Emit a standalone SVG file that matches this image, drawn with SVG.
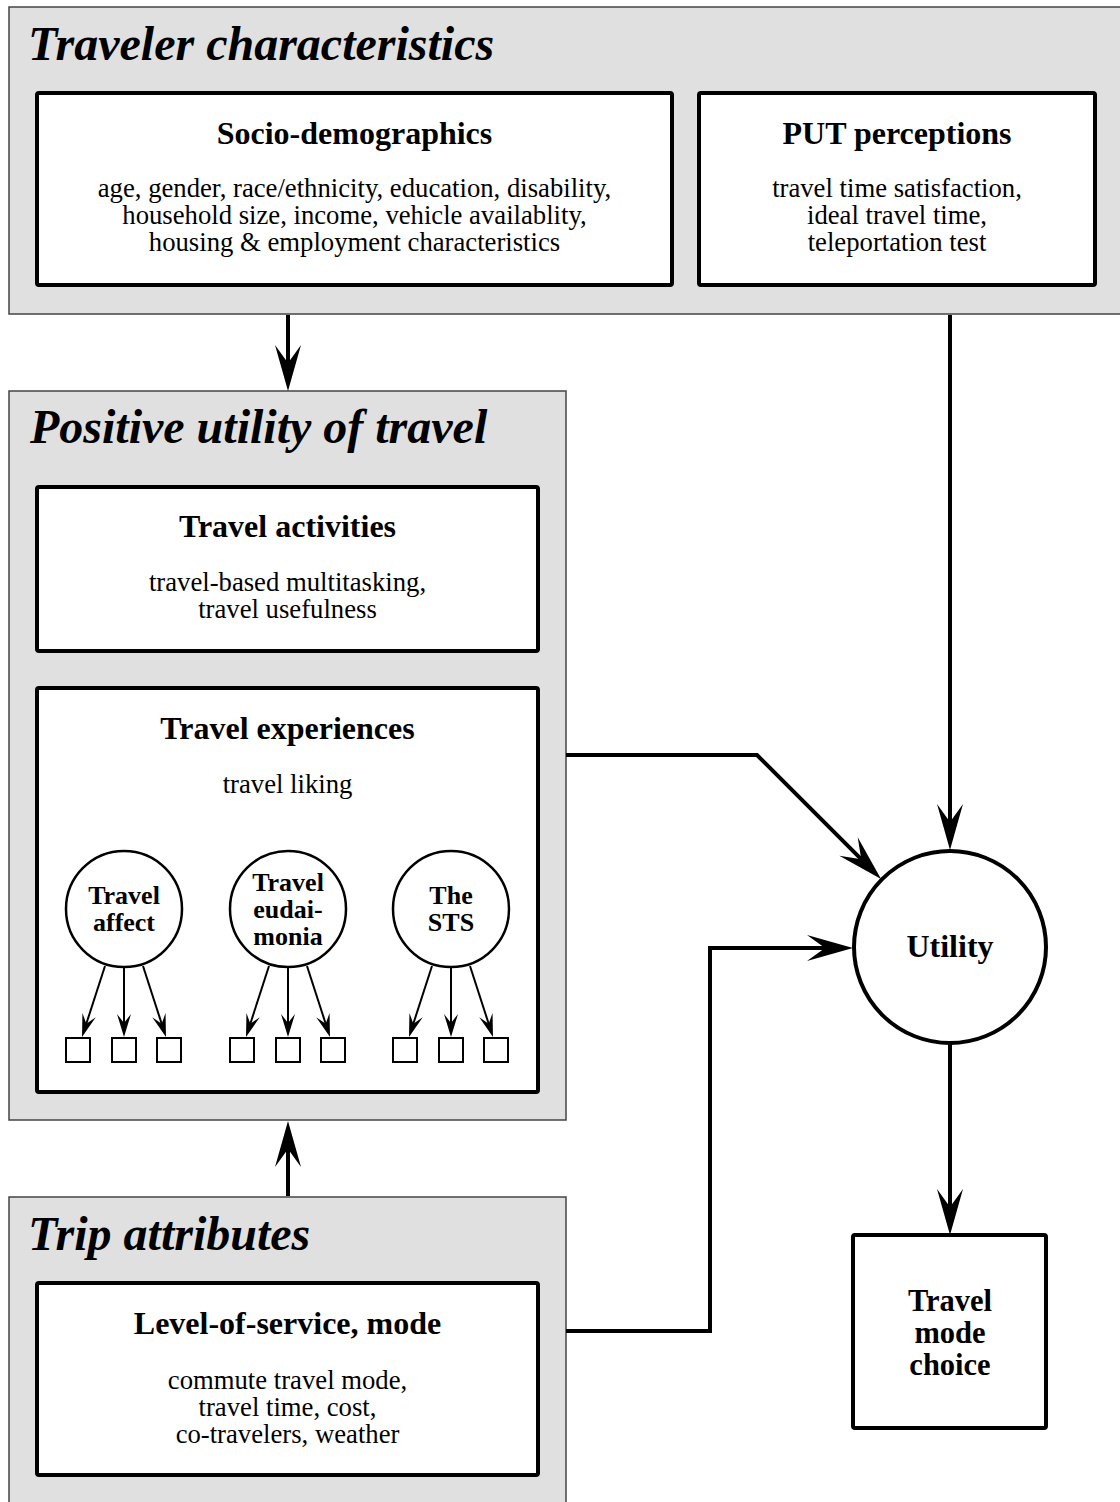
<svg xmlns="http://www.w3.org/2000/svg" width="1120" height="1502" viewBox="0 0 1120 1502">
<style>
.frame{fill:#e0e0e0;stroke:#444;stroke-width:1.5}
.box{fill:#fff;stroke:#000;stroke-width:4}
.ftitle{font-family:"Liberation Serif",serif;font-weight:bold;font-style:italic;font-size:48px;fill:#000}
.title{font-family:"Liberation Serif",serif;font-weight:bold;font-size:32px;fill:#000;text-anchor:middle}
.mtitle{font-family:"Liberation Serif",serif;font-weight:bold;font-size:30.5px;fill:#000;text-anchor:middle}
.body{font-family:"Liberation Serif",serif;font-size:26.7px;fill:#000;text-anchor:middle}
.ctext{font-family:"Liberation Serif",serif;font-weight:bold;font-size:26px;fill:#000;text-anchor:middle}
.conn{fill:none;stroke:#000;stroke-width:4;stroke-linejoin:miter}
.sconn{fill:none;stroke:#000;stroke-width:2}
.sq{fill:#fff;stroke:#000;stroke-width:2}
.lat{fill:#fff;stroke:#000;stroke-width:2.5}
</style>
<defs>
<marker id="ah" markerUnits="userSpaceOnUse" orient="auto" refX="0" refY="0" markerWidth="80" markerHeight="40" overflow="visible">
<path d="M20,0 L-26,-13 L-8,0 L-26,13 Z" fill="#000"/>
</marker>
<marker id="sah" markerUnits="userSpaceOnUse" orient="auto" refX="0" refY="0" markerWidth="40" markerHeight="20" overflow="visible">
<path d="M10,0 L-13,-7 L-4,0 L-13,7 Z" fill="#000"/>
</marker>
</defs>

<g id="traveler-characteristics">
<rect class="frame" x="9" y="7" width="1120" height="307"/>
<text class="ftitle" x="28" y="60">Traveler characteristics</text>
</g>
<g id="socio-demographics">
<rect class="box" x="37" y="93" width="635" height="192" rx="2"/>
<text class="title" x="354.5" y="144">Socio-demographics</text>
<text class="body" x="354.5" y="197">age, gender, race/ethnicity, education, disability,</text>
<text class="body" x="354.5" y="224">household size, income, vehicle availablity,</text>
<text class="body" x="354.5" y="251">housing &amp; employment characteristics</text>
</g>
<g id="put-perceptions">
<rect class="box" x="699" y="93" width="396" height="192" rx="2"/>
<text class="title" x="897" y="144">PUT perceptions</text>
<text class="body" x="897" y="197">travel time satisfaction,</text>
<text class="body" x="897" y="224">ideal travel time,</text>
<text class="body" x="897" y="251">teleportation test</text>
</g>

<g id="positive-utility">
<rect class="frame" x="9" y="391" width="557" height="729"/>
<text class="ftitle" x="30" y="443">Positive utility of travel</text>
</g>
<g id="travel-activities">
<rect class="box" x="37" y="487" width="501" height="164" rx="2"/>
<text class="title" x="287.5" y="537">Travel activities</text>
<text class="body" x="287.5" y="591">travel-based multitasking,</text>
<text class="body" x="287.5" y="618">travel usefulness</text>
</g>
<g id="travel-experiences">
<rect class="box" x="37" y="688" width="501" height="404" rx="2"/>
<text class="title" x="287.5" y="739">Travel experiences</text>
<text class="body" x="287.5" y="793">travel liking</text>
</g>

<g id="travel-affect">
<circle class="lat" cx="124" cy="909" r="58"/>
<text class="ctext" x="124" y="904">Travel</text>
<text class="ctext" x="124" y="931">affect</text>
<rect class="sq" x="66" y="1038" width="24" height="24"/>
<rect class="sq" x="112" y="1038" width="24" height="24"/>
<rect class="sq" x="157" y="1038" width="24" height="24"/>
</g>
<g id="travel-eudaimonia">
<circle class="lat" cx="288" cy="909" r="58"/>
<text class="ctext" x="288" y="891">Travel</text>
<text class="ctext" x="288" y="918">eudai-</text>
<text class="ctext" x="288" y="945">monia</text>
<rect class="sq" x="230" y="1038" width="24" height="24"/>
<rect class="sq" x="276" y="1038" width="24" height="24"/>
<rect class="sq" x="321" y="1038" width="24" height="24"/>
</g>
<g id="the-sts">
<circle class="lat" cx="451" cy="909" r="58"/>
<text class="ctext" x="451" y="904">The</text>
<text class="ctext" x="451" y="931">STS</text>
<rect class="sq" x="393" y="1038" width="24" height="24"/>
<rect class="sq" x="439" y="1038" width="24" height="24"/>
<rect class="sq" x="484" y="1038" width="24" height="24"/>
</g>

<g id="trip-attributes">
<rect class="frame" x="9" y="1197" width="557" height="400"/>
<text class="ftitle" x="28" y="1250">Trip attributes</text>
</g>
<g id="level-of-service">
<rect class="box" x="37" y="1283" width="501" height="192" rx="2"/>
<text class="title" x="287.5" y="1334">Level-of-service, mode</text>
<text class="body" x="287.5" y="1389">commute travel mode,</text>
<text class="body" x="287.5" y="1416">travel time, cost,</text>
<text class="body" x="287.5" y="1443">co-travelers, weather</text>
</g>

<g id="utility">
<circle cx="950" cy="947" r="96" fill="#fff" stroke="#000" stroke-width="4"/>
<text class="title" x="950" y="957">Utility</text>
</g>
<g id="travel-mode-choice">
<rect class="box" x="853" y="1235" width="193" height="193" rx="2"/>
<text class="mtitle" x="950" y="1311">Travel</text>
<text class="mtitle" x="950" y="1343">mode</text>
<text class="mtitle" x="950" y="1375">choice</text>
</g>

<g id="connectors">
<line class="conn" x1="288" y1="315" x2="288" y2="371" marker-end="url(#ah)"/>
<line class="conn" x1="288" y1="1196" x2="288" y2="1141" marker-end="url(#ah)"/>
<line class="conn" x1="950" y1="315" x2="950" y2="830" marker-end="url(#ah)"/>
<polyline class="conn" points="566,755 757,755 866.9,864.9" marker-end="url(#ah)"/>
<polyline class="conn" points="566,1331 710,1331 710,948 833,948" marker-end="url(#ah)"/>
<line class="conn" x1="950" y1="1043" x2="950" y2="1215" marker-end="url(#ah)"/>

<line class="sconn" x1="105" y1="966" x2="85.1" y2="1027.5" marker-end="url(#sah)"/>
<line class="sconn" x1="124" y1="967" x2="124" y2="1027" marker-end="url(#sah)"/>
<line class="sconn" x1="143" y1="966" x2="162.9" y2="1027.5" marker-end="url(#sah)"/>
<line class="sconn" x1="269" y1="966" x2="249.1" y2="1027.5" marker-end="url(#sah)"/>
<line class="sconn" x1="288" y1="967" x2="288" y2="1027" marker-end="url(#sah)"/>
<line class="sconn" x1="307" y1="966" x2="326.9" y2="1027.5" marker-end="url(#sah)"/>
<line class="sconn" x1="432" y1="966" x2="412.1" y2="1027.5" marker-end="url(#sah)"/>
<line class="sconn" x1="451" y1="967" x2="451" y2="1027" marker-end="url(#sah)"/>
<line class="sconn" x1="470" y1="966" x2="489.9" y2="1027.5" marker-end="url(#sah)"/>
</g>
</svg>
